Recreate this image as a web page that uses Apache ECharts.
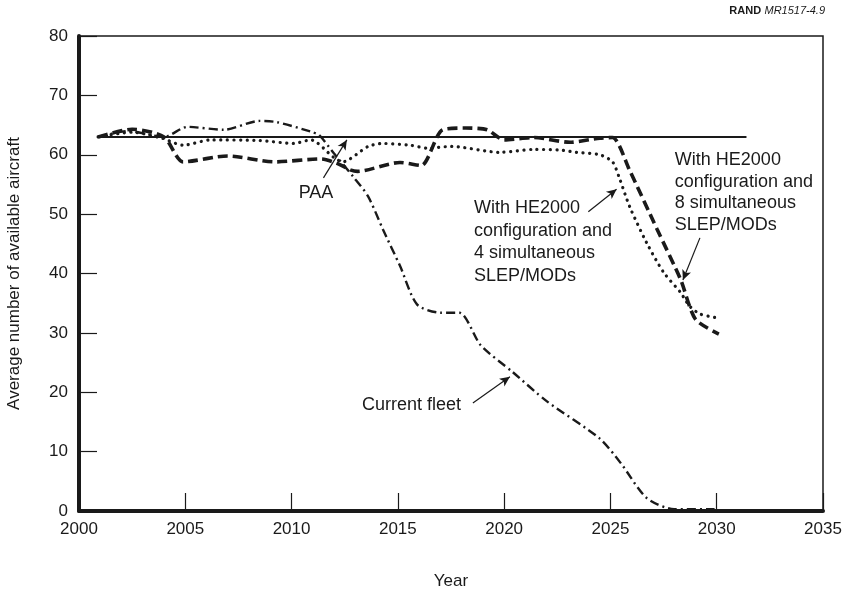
<!DOCTYPE html>
<html lang="en">
<head>
<meta charset="UTF-8">
<title>Average number of available aircraft</title>
<script src="https://cdn.jsdelivr.net/npm/echarts@6/dist/echarts.min.js"></script>
<style>
  body { margin: 0; background: #fff; }
  #chart { width: 845px; height: 592px; }
</style>
</head>
<body>
<div id="chart"></div>
<script>
// values (year, aircraft)
const paaYears = [2000.9, 2031.4];
const paaValues = [63, 63];

const fleetYears = [2000.9, 2002.3, 2004, 2005.1, 2006.8, 2008.5, 2009.3, 2010.9, 2011.3, 2012, 2012.9, 2013.6,
  2014.3, 2015.1, 2015.9, 2017, 2017.9, 2018.9, 2020.4, 2022, 2024.5, 2025.5, 2026.7, 2028, 2029.9];
const fleetValues = [63, 64, 63, 64.7, 64.2, 65.7, 65.5, 63.9, 63.3, 60.2, 56.3, 53,
  47.4, 41.3, 34.8, 33.4, 33.4, 27.9, 23.4, 18.5, 12.2, 8, 2.2, 0.3, 0.3];

const slep8Years = [2000.9, 2002.5, 2004, 2004.9, 2007, 2009.2, 2011.4, 2012.1, 2012.8, 2013.1, 2015.1, 2016.1,
  2017.1, 2018.2, 2019.2, 2020, 2021.4, 2023.1, 2024.5, 2025.1, 2025.9, 2027.2, 2028.3, 2029, 2030.1];
const slep8Values = [63, 64.3, 63, 58.8, 59.8, 58.8, 59.3, 58.6, 57.4, 57.2, 58.7, 58.2,
  64.2, 64.5, 64.2, 62.5, 62.9, 62.1, 62.8, 62.9, 57.4, 47.4, 39, 32.3, 29.8];

const slep4Years = [2000.9, 2002.5, 2003.9, 2004.9, 2006.2, 2008.5, 2010.1, 2010.9, 2012, 2012.4, 2013.6, 2014.3,
  2015.6, 2016.4, 2017.5, 2019.8, 2021.4, 2022.6, 2023.4, 2024.5, 2025.1, 2025.4, 2025.9, 2026.7, 2027.5,
  2028.3, 2028.7, 2029.2, 2029.9];
const slep4Values = [63, 63.8, 62.8, 61.6, 62.5, 62.4, 61.9, 62.5, 59.5, 58.8, 61.4, 61.9,
  61.6, 61.1, 61.4, 60.4, 60.9, 60.8, 60.4, 60, 58.8, 56.3, 51.3, 45.2, 40.2,
  36.8, 34.6, 33.2, 32.6];

// annotation arrows, data coords: [x1, y1, x2, y2]
const arrows = [
  [2011.5, 56.1, 2012.6, 62.5],
  [2023.96, 50.4, 2025.29, 54.2],
  [2029.21, 46.0, 2028.41, 38.9],
  [2018.53, 18.2, 2020.27, 22.6]
];

const pairs = (xs, ys) => xs.map((x, i) => [x, ys[i]]);
const ink = '#1a1a1a';
const font = '"Liberation Sans", Arial, sans-serif';

const chart = echarts.init(document.getElementById('chart'));

chart.setOption({
  animation: false,
  backgroundColor: '#fff',
  grid: {
    left: 79, right: 22, top: 36, bottom: 81,
    outerBoundsMode: 'none', containLabel: false,
    show: true, borderColor: ink, borderWidth: 1.5
  },
  xAxis: {
    type: 'value', min: 2000, max: 2035, interval: 5,
    name: 'Year', nameLocation: 'middle', nameGap: 62,
    nameTextStyle: { fontFamily: font, fontSize: 17, color: ink },
    axisLine: { show: true, lineStyle: { color: ink, width: 4 } },
    axisTick: { show: true, inside: true, length: 18, lineStyle: { color: ink, width: 1.2 } },
    axisLabel: { fontFamily: font, fontSize: 17, color: ink, margin: 10, formatter: v => String(v) },
    splitLine: { show: false }
  },
  yAxis: {
    type: 'value', min: 0, max: 80, interval: 10,
    name: 'Average number of available aircraft', nameLocation: 'middle', nameGap: 56,
    nameTextStyle: { fontFamily: font, fontSize: 17, color: ink },
    axisLine: { show: true, lineStyle: { color: ink, width: 4 } },
    axisTick: { show: true, inside: true, length: 18, lineStyle: { color: ink, width: 1.2 } },
    axisLabel: { fontFamily: font, fontSize: 17, color: ink, margin: 11 },
    splitLine: { show: false }
  },
  series: [
    {
      name: 'PAA', type: 'line', data: pairs(paaYears, paaValues), showSymbol: false,
      lineStyle: { color: ink, width: 2 },
      markLine: {
        silent: true, symbol: ['none', 'arrow'], symbolSize: [7, 10],
        label: { show: false },
        lineStyle: { color: ink, width: 1.2, type: 'solid' },
        data: arrows.map(a => [{ coord: [a[0], a[1]] }, { coord: [a[2], a[3]] }])
      }
    },
    {
      name: 'Current fleet', type: 'line', data: pairs(fleetYears, fleetValues), showSymbol: false, smooth: 0.25,
      lineStyle: { color: ink, width: 2.4, type: [9, 4, 2, 4] }
    },
    {
      name: '8 simultaneous', type: 'line', data: pairs(slep8Years, slep8Values), showSymbol: false, smooth: 0.25,
      lineStyle: { color: ink, width: 3.6, type: [10, 5] }
    },
    {
      name: '4 simultaneous', type: 'line', data: pairs(slep4Years, slep4Values), showSymbol: false, smooth: 0.25,
      lineStyle: { color: ink, width: 3.2, type: [0.1, 6.5], cap: 'round' }
    }
  ]
});

// text annotations placed in data space
const px = (x, y) => chart.convertToPixel({ gridIndex: 0 }, [x, y]);
const txt = (pos, text) => ({
  type: 'text', x: pos[0], y: pos[1],
  style: { text: text, fontFamily: font, fontSize: 18, fill: ink, lineHeight: 22 }
});

const g = [
  txt(px(2011.15, 53.5), 'PAA'),
  txt(px(2018.58, 52.9), 'With HE2000\nconfiguration and\n4 simultaneous\nSLEP/MODs'),
  txt(px(2028.03, 60.9), 'With HE2000\nconfiguration and\n8 simultaneous\nSLEP/MODs'),
  txt(px(2013.31, 17.8), 'Current fleet')
];
g[0].style.align = 'center'; g[0].style.verticalAlign = 'middle';
g[3].style.verticalAlign = 'middle';
g[1].style.lineHeight = 22.5;
g[2].style.lineHeight = 21.5;

g.push({
  type: 'text', right: 20, top: 5,
  style: {
    text: '{b|RAND} {i|MR1517-4.9}', fill: ink,
    rich: {
      b: { fontFamily: font, fontSize: 11, fontWeight: 'bold', fill: ink },
      i: { fontFamily: font, fontSize: 11, fontStyle: 'italic', fill: ink }
    }
  }
});

chart.setOption({ graphic: g });
</script>
</body>
</html>
